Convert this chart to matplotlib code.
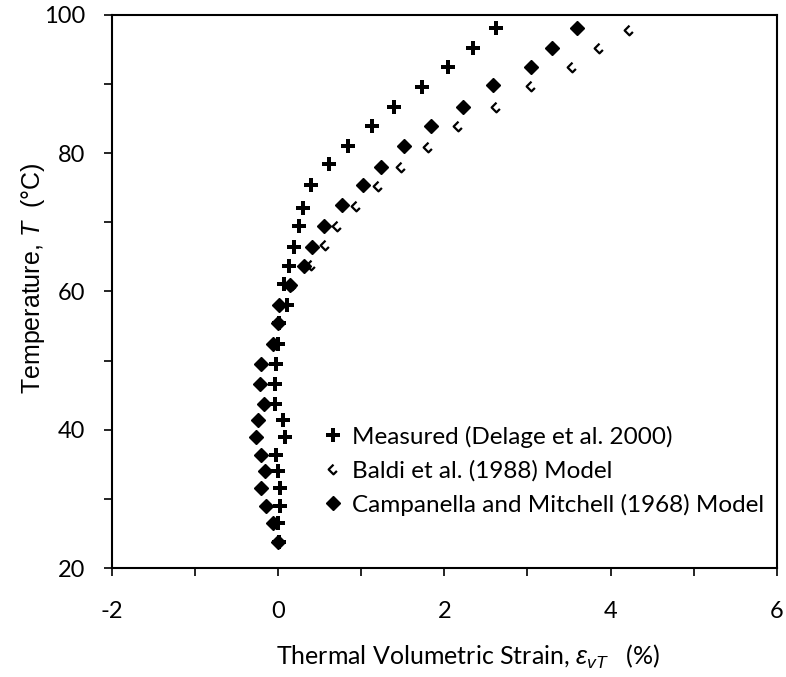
#!/usr/bin/env python3
"""Thermal volumetric strain vs temperature: measured data and two models."""

import matplotlib
matplotlib.use("Agg")
import matplotlib.pyplot as plt
from matplotlib.path import Path
from matplotlib.ticker import MultipleLocator

# Measured (Delage et al. 2000)
measured_strain = [2.62, 2.34, 2.05, 1.73, 1.39, 1.13, 0.84, 0.61, 0.40, 0.30,
                   0.25, 0.19, 0.13, 0.07, 0.11, 0.01, 0.00, -0.02, -0.04, -0.04,
                   0.06, 0.09, -0.02, 0.00, 0.02, 0.02, 0.00, 0.01]
measured_temp = [98.1, 95.2, 92.5, 89.6, 86.7, 83.9, 81.0, 78.4, 75.4, 72.1,
                 69.5, 66.5, 63.7, 61.1, 58.1, 55.4, 52.4, 49.5, 46.6, 43.7,
                 41.4, 39.0, 36.4, 34.0, 31.5, 29.0, 26.5, 23.8]

# Baldi et al. (1988) model
baldi_strain = [4.22, 3.86, 3.54, 3.04, 2.62, 2.16, 1.80, 1.48, 1.20, 0.94,
                0.71, 0.56, 0.40, 0.17, 0.03, 0.00, -0.06, -0.20, -0.22, -0.17,
                -0.24, -0.26, -0.20, -0.16, -0.19, -0.14, -0.06, 0.00]
baldi_temp = [97.8, 95.2, 92.5, 89.7, 86.7, 83.9, 80.9, 78.0, 75.3, 72.3,
              69.5, 66.7, 63.8, 61.0, 58.1, 55.4, 52.4, 49.5, 46.6, 43.7,
              41.4, 39.0, 36.4, 34.0, 31.5, 29.0, 26.5, 23.8]

# Campanella and Mitchell (1968) model
campanella_strain = [3.60, 3.30, 3.04, 2.58, 2.22, 1.84, 1.52, 1.24, 1.02, 0.77,
                     0.55, 0.41, 0.31, 0.14, 0.01, 0.00, -0.06, -0.20, -0.22, -0.17,
                     -0.24, -0.26, -0.20, -0.16, -0.20, -0.14, -0.06, 0.00]
campanella_temp = [98.1, 95.2, 92.5, 89.9, 86.7, 83.9, 81.1, 78.0, 75.4, 72.5,
                   69.5, 66.5, 63.7, 61.0, 58.1, 55.4, 52.4, 49.5, 46.6, 43.7,
                   41.4, 39.0, 36.4, 34.0, 31.5, 29.0, 26.5, 23.8]

labels = ["Measured (Delage et al. 2000)",
          "Baldi et al. (1988) Model",
          "Campanella and Mitchell (1968) Model"]

plt.rcParams["font.family"] = ["Lato", "DejaVu Sans"]
plt.rcParams["axes.unicode_minus"] = False
plt.rcParams["mathtext.fontset"] = "custom"
plt.rcParams["mathtext.rm"] = "Liberation Sans"
plt.rcParams["mathtext.it"] = "Liberation Sans:italic"

# open diamond with one side missing
hook = Path([(0, 1), (-1, 0), (0, -1), (0.7, -0.3)],
            [Path.MOVETO, Path.LINETO, Path.LINETO, Path.LINETO])

fig = plt.figure(figsize=(7.86, 6.77), dpi=100)
ax = fig.add_axes([0.142, 0.161, 0.8465, 0.817])

ax.plot(measured_strain, measured_temp, linestyle="none", marker="P",
        color="black", markersize=10, markeredgewidth=0, label=labels[0])
ax.plot(baldi_strain, baldi_temp, linestyle="none", marker=hook,
        markerfacecolor="none", markeredgecolor="black", markersize=7,
        markeredgewidth=1.6, label=labels[1])
ax.plot(campanella_strain, campanella_temp, linestyle="none", marker="D",
        color="black", markersize=7, label=labels[2])

ax.set_xlim(-2, 6)
ax.set_ylim(20, 100)
ax.xaxis.set_major_locator(MultipleLocator(2))
ax.xaxis.set_minor_locator(MultipleLocator(1))
ax.yaxis.set_major_locator(MultipleLocator(20))
ax.yaxis.set_minor_locator(MultipleLocator(10))
ax.tick_params(which="both", direction="out", length=5.8, width=1.2,
               labelsize=17)
ax.tick_params(axis="x", pad=18)
ax.tick_params(axis="y", pad=13.5)

for side in ["left", "right", "top", "bottom"]:
    ax.spines[side].set_linewidth(1.5)

ax.set_xlabel(r"Thermal Volumetric Strain, $\varepsilon_{vT}$   (%)",
              fontsize=18, va="center")
ax.xaxis.set_label_coords(0.535, -0.160)
ax.set_ylabel(r"Temperature, $T$  (°C)", fontsize=18,
              family="Liberation Sans", va="center")
ax.yaxis.set_label_coords(-0.118, 0.523)

ax.legend(loc="center left", bbox_to_anchor=(0.318, 0.176), frameon=False,
          fontsize=17.5, handlelength=0.8, handletextpad=0.4, labelspacing=0.5,
          borderpad=0, borderaxespad=0, numpoints=1)

fig.savefig("out.png", dpi=100)
